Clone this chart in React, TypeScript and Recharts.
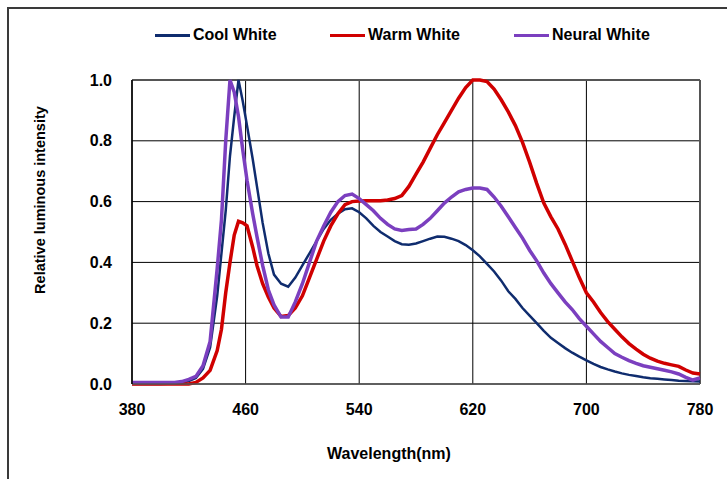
import React from 'react';
import { LineChart, Line, XAxis, YAxis, CartesianGrid, Legend, ReferenceLine } from 'recharts';

const wavelengths = [
  380, 390, 400, 410, 415, 420, 425, 430, 435, 440,
  443, 446, 449, 452, 455, 458, 461, 465, 468, 472,
  476, 480, 485, 490, 495, 500,
  505, 510, 515, 520, 525, 530, 535, 540, 545, 550,
  555, 560, 565, 570, 575, 580, 585, 590, 595, 600,
  605, 610, 615, 620, 625, 630, 635, 640, 645, 650,
  655, 660, 665, 670, 675, 680, 685, 690, 695, 700,
  705, 710, 715, 720, 725, 730, 735, 740, 745, 750,
  755, 760, 765, 770, 775, 780,
];

const coolWhite = [
  0, 0, 0, 0.002, 0.004, 0.01, 0.02, 0.05, 0.12, 0.29,
  0.43, 0.57, 0.75, 0.88, 1.0, 0.93, 0.85, 0.74, 0.65, 0.53,
  0.43, 0.36, 0.33, 0.32, 0.35, 0.39,
  0.43, 0.47, 0.51, 0.54, 0.56, 0.575, 0.578, 0.565, 0.545, 0.52,
  0.5, 0.485, 0.47, 0.46, 0.458, 0.462, 0.47, 0.478, 0.485, 0.484,
  0.478, 0.47, 0.457, 0.44, 0.42, 0.395, 0.37, 0.34, 0.305, 0.28,
  0.25, 0.225, 0.2, 0.175, 0.152, 0.135, 0.118, 0.103, 0.09, 0.078,
  0.066, 0.056, 0.048, 0.041, 0.035, 0.03, 0.026, 0.022, 0.019, 0.017,
  0.015, 0.013, 0.011, 0.01, 0.009, 0.008,
];

const warmWhite = [
  0, 0, 0, 0, 0, 0, 0.005, 0.02, 0.045, 0.11,
  0.18, 0.3, 0.4, 0.49, 0.535, 0.53, 0.52, 0.45, 0.39, 0.33,
  0.286, 0.25, 0.222, 0.225, 0.25, 0.29,
  0.35, 0.41, 0.47, 0.52, 0.56, 0.59, 0.6, 0.602, 0.603, 0.603,
  0.603, 0.605, 0.61, 0.62, 0.65, 0.69, 0.73, 0.775, 0.82, 0.86,
  0.9, 0.94, 0.975, 1.0, 1.0, 0.995, 0.97, 0.935, 0.895, 0.85,
  0.795, 0.73, 0.66, 0.595, 0.55, 0.51, 0.46, 0.405, 0.35, 0.3,
  0.27, 0.235, 0.205, 0.18, 0.155, 0.133, 0.115, 0.098, 0.085, 0.075,
  0.068, 0.063, 0.058, 0.046, 0.036, 0.033,
];

const neuralWhite = [
  0.005, 0.005, 0.005, 0.005, 0.008, 0.015, 0.025, 0.06, 0.14, 0.38,
  0.54, 0.8, 1.0, 0.96, 0.88, 0.77, 0.67, 0.56, 0.485, 0.39,
  0.31, 0.26, 0.22, 0.22, 0.27, 0.33,
  0.4, 0.47, 0.52, 0.565, 0.6, 0.62, 0.625, 0.61, 0.59, 0.57,
  0.545, 0.525, 0.51, 0.505, 0.508, 0.51, 0.525, 0.545, 0.57, 0.595,
  0.615, 0.632, 0.64, 0.645, 0.645, 0.64, 0.615, 0.585, 0.55, 0.515,
  0.48, 0.44, 0.405, 0.365, 0.33, 0.3, 0.27, 0.245, 0.215, 0.19,
  0.165, 0.14, 0.12, 0.1, 0.088, 0.077, 0.068, 0.06, 0.055, 0.05,
  0.045, 0.04, 0.033, 0.022, 0.013, 0.02,
];

const xTicks = [380, 460, 540, 620, 700, 780];
const yTicks = [0, 0.2, 0.4, 0.6, 0.8, 1.0];

const seriesNames = ['Cool White', 'Warm White', 'Neural White'];
const seriesColors = ['#0f2c6e', '#d00000', '#7b3fbf'];

const data = wavelengths.map((w, i) => ({
  w,
  cool: coolWhite[i],
  warm: warmWhite[i],
  neural: neuralWhite[i],
}));

const FONT = '"Liberation Sans", Arial, Helvetica, sans-serif';

const legendPositions = [155, 330, 514];

const renderLegend = () => (
  <div style={{ position: 'relative', width: 727, height: 22, fontFamily: FONT }}>
    {seriesNames.map((name, i) => (
      <div
        key={name}
        style={{
          position: 'absolute',
          left: legendPositions[i],
          top: 0,
          height: 22,
          display: 'flex',
          alignItems: 'center',
          whiteSpace: 'nowrap',
        }}
      >
        <div style={{ width: 35, height: 3, background: seriesColors[i], marginRight: 3 }} />
        <span style={{ fontSize: 16, fontWeight: 'bold', color: '#000' }}>{name}</span>
      </div>
    ))}
  </div>
);

const YTitle = (props: any) => {
  const vb = props.viewBox || { x: 0, y: 0, width: 0, height: 0 };
  const cx = 40;
  const cy = vb.y + vb.height / 2 - 32;
  return (
    <text
      x={cx}
      y={cy}
      transform={`rotate(-90, ${cx}, ${cy})`}
      textAnchor="middle"
      dominantBaseline="central"
      style={{ fontFamily: FONT, fontSize: 14.5, fontWeight: 'bold', fill: '#000' }}
    >
      Relative luminous intensity
    </text>
  );
};

const XTitle = (props: any) => {
  const vb = props.viewBox || { x: 0, y: 0, width: 0, height: 0 };
  const cx = vb.x + vb.width / 2 - 27;
  return (
    <text
      x={cx}
      y={459}
      textAnchor="middle"
      style={{ fontFamily: FONT, fontSize: 16, fontWeight: 'bold', fill: '#000' }}
    >
      Wavelength(nm)
    </text>
  );
};

export default function App() {
  return (
    <div
      style={{
        position: 'absolute',
        left: 0,
        top: 0,
        width: 727,
        height: 479,
        overflow: 'hidden',
        background: '#fff',
        fontFamily: FONT,
      }}
    >
      <div
        style={{
          position: 'absolute',
          left: 7,
          top: 7,
          width: 900,
          height: 700,
          borderTop: '2px solid #3a3a3a',
          borderLeft: '2px solid #3a3a3a',
        }}
      />
      <div style={{ position: 'absolute', left: 0, top: 0 }}>
        <LineChart
          width={727}
          height={479}
          data={data}
          margin={{ top: 80, right: 27, bottom: 0, left: 0 }}
        >
          <CartesianGrid stroke="#000" strokeWidth={1} />
          <XAxis
            dataKey="w"
            type="number"
            domain={[380, 780]}
            ticks={xTicks}
            height={95}
            tickSize={0}
            tickMargin={20}
            axisLine={{ stroke: '#555', strokeWidth: 1.5 }}
            tick={{ fontSize: 16, fontWeight: 'bold', fill: '#000', fontFamily: FONT }}
            label={<XTitle />}
          />
          <YAxis
            type="number"
            domain={[0, 1]}
            ticks={yTicks}
            width={132}
            tickSize={0}
            tickMargin={20}
            tickFormatter={(v: number) => v.toFixed(1)}
            axisLine={{ stroke: '#000', strokeWidth: 1.5 }}
            tick={{ fontSize: 16, fontWeight: 'bold', fill: '#000', fontFamily: FONT }}
            label={<YTitle />}
          />
          <ReferenceLine y={1} stroke="#555" strokeWidth={2} />
          <ReferenceLine x={780} stroke="#555" strokeWidth={2} />
          <Legend
            layout="horizontal"
            verticalAlign="middle"
            content={renderLegend}
            wrapperStyle={{ top: 24, left: 0, width: 727, height: 22 }}
          />
          <Line
            type="linear"
            dataKey="cool"
            name={seriesNames[0]}
            stroke={seriesColors[0]}
            strokeWidth={2.5}
            dot={false}
            isAnimationActive={false}
          />
          <Line
            type="linear"
            dataKey="warm"
            name={seriesNames[1]}
            stroke={seriesColors[1]}
            strokeWidth={3.5}
            dot={false}
            isAnimationActive={false}
          />
          <Line
            type="linear"
            dataKey="neural"
            name={seriesNames[2]}
            stroke={seriesColors[2]}
            strokeWidth={3.5}
            dot={false}
            isAnimationActive={false}
          />
        </LineChart>
      </div>
    </div>
  );
}
